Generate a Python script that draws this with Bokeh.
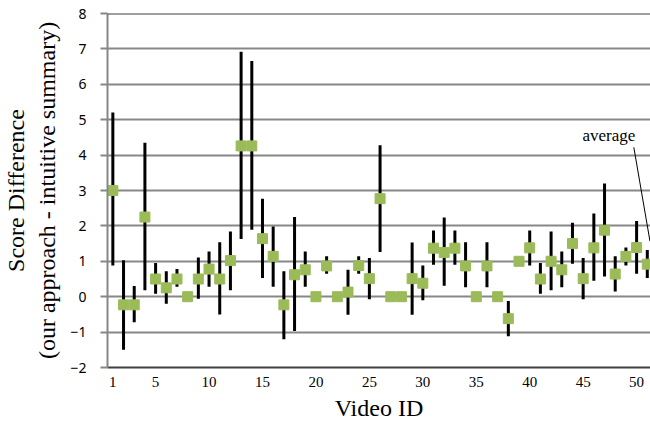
from bokeh.plotting import figure
from bokeh.models import FixedTicker, Span, Label, Range1d
from bokeh.embed import file_html
from bokeh.resources import INLINE

video_id = list(range(1, 52))
score = [3.0, -0.23, -0.23, 2.25, 0.5, 0.25, 0.5, 0.0, 0.5, 0.78,
         0.5, 1.02, 4.26, 4.26, 1.64, 1.14, -0.23, 0.62, 0.76, 0.0,
         0.87, 0.0, 0.13, 0.88, 0.51, 2.77, 0.0, 0.0, 0.51, 0.38,
         1.37, 1.25, 1.37, 0.87, 0.0, 0.87, 0.0, -0.62, 1.0, 1.38,
         0.5, 1.0, 0.76, 1.5, 0.51, 1.38, 1.88, 0.64, 1.14, 1.39, 0.92]
upper = [5.2, 1.03, 0.3, 4.35, 0.95, 0.72, 0.78, 0.0, 1.11, 1.28,
         1.54, 1.84, 6.92, 6.66, 2.77, 1.98, 0.72, 2.25, 1.28, 0.0,
         1.14, 0.0, 0.76, 1.14, 1.09, 4.28, 0.0, 0.0, 1.53, 0.88,
         1.87, 2.24, 1.87, 1.54, 0.0, 1.54, 0.0, -0.12, 1.0, 1.87,
         0.95, 1.84, 1.28, 2.09, 1.09, 2.35, 3.2, 1.14, 1.39, 2.14, 1.32]
lower = [0.88, -1.5, -0.72, 0.18, 0.08, -0.2, 0.28, 0.0, -0.06, 0.28,
         -0.5, 0.18, 1.63, 1.89, 0.53, 0.28, -1.2, -0.97, 0.28, 0.0,
         0.65, 0.0, -0.51, 0.65, -0.07, 1.26, 0.0, 0.0, -0.51, -0.1,
         0.9, 0.31, 0.9, 0.27, 0.0, 0.27, 0.0, -1.12, 1.0, 0.88,
         0.08, 0.18, 0.27, 0.93, -0.07, 0.45, 0.57, 0.15, 0.88, 0.65, 0.53]
x_ticks = [1, 5, 10, 15, 20, 25, 30, 35, 40, 45, 50]
y_ticks = list(range(-2, 9))

SERIF = "Liberation Serif"

p = figure(width=650, height=426, x_range=Range1d(0.5, 51.3), y_range=Range1d(-2, 8),
           output_backend="svg", toolbar_location=None,
           min_border_left=106, min_border_right=0, min_border_top=13, min_border_bottom=59)
p.outline_line_color = None
p.background_fill_color = "white"
p.border_fill_color = "white"

p.xgrid.grid_line_color = None
p.ygrid.ticker = FixedTicker(ticks=y_ticks)
p.ygrid.grid_line_color = "#878787"
p.ygrid.grid_line_width = 2

p.add_layout(Span(location=8, dimension="width", line_color="#404040", line_width=2))

xa = p.xaxis[0]
xa.ticker = FixedTicker(ticks=x_ticks)
xa.axis_line_color = "#404040"
xa.axis_line_width = 2
xa.major_tick_out = 0
xa.major_tick_in = 0
xa.minor_tick_out = 0
xa.minor_tick_in = 0
xa.major_label_text_font = SERIF
xa.major_label_text_font_size = "15px"
xa.major_label_text_color = "black"
xa.major_label_standoff = 9
xa.axis_label = "Video ID"
xa.axis_label_text_font = SERIF
xa.axis_label_text_font_size = "24px"
xa.axis_label_text_font_style = "normal"
xa.axis_label_text_color = "black"
xa.axis_label_standoff = 5

ya = p.yaxis[0]
ya.ticker = FixedTicker(ticks=y_ticks)
ya.axis_line_color = "#878787"
ya.axis_line_width = 2
ya.major_tick_line_color = "#878787"
ya.major_tick_line_width = 2
ya.major_tick_out = 7
ya.major_tick_in = 0
ya.minor_tick_out = 0
ya.minor_tick_in = 0
ya.major_label_text_font = "Noto Sans"
ya.major_label_text_font_size = "14px"
ya.major_label_text_color = "black"
ya.major_label_standoff = 14
ya.axis_label = "Score Difference\n(our approach - intuitive summary)"
ya.axis_label_text_font = SERIF
ya.axis_label_text_font_size = "24px"
ya.axis_label_text_font_style = "normal"
ya.axis_label_text_color = "black"
ya.axis_label_standoff = 7

p.segment(x0=video_id, y0=lower, x1=video_id, y1=upper, line_color="black", line_width=3)
p.scatter(video_id, score, marker="square", size=10, fill_color="#9BBB59", line_color="#9BBB59")

# "average" annotation pointing to the last (average) entry
p.add_layout(Label(x=47.4, y=4.55, text="average", text_font=SERIF, text_font_size="17px",
                   text_align="center", text_baseline="middle", text_color="black"))
p.segment(x0=[49.74], y0=[4.22], x1=[video_id[-1] + 0.25], y1=[upper[-1] + 0.25],
          line_color="black", line_width=1)

open("out.html", "w").write(file_html(p, INLINE))
